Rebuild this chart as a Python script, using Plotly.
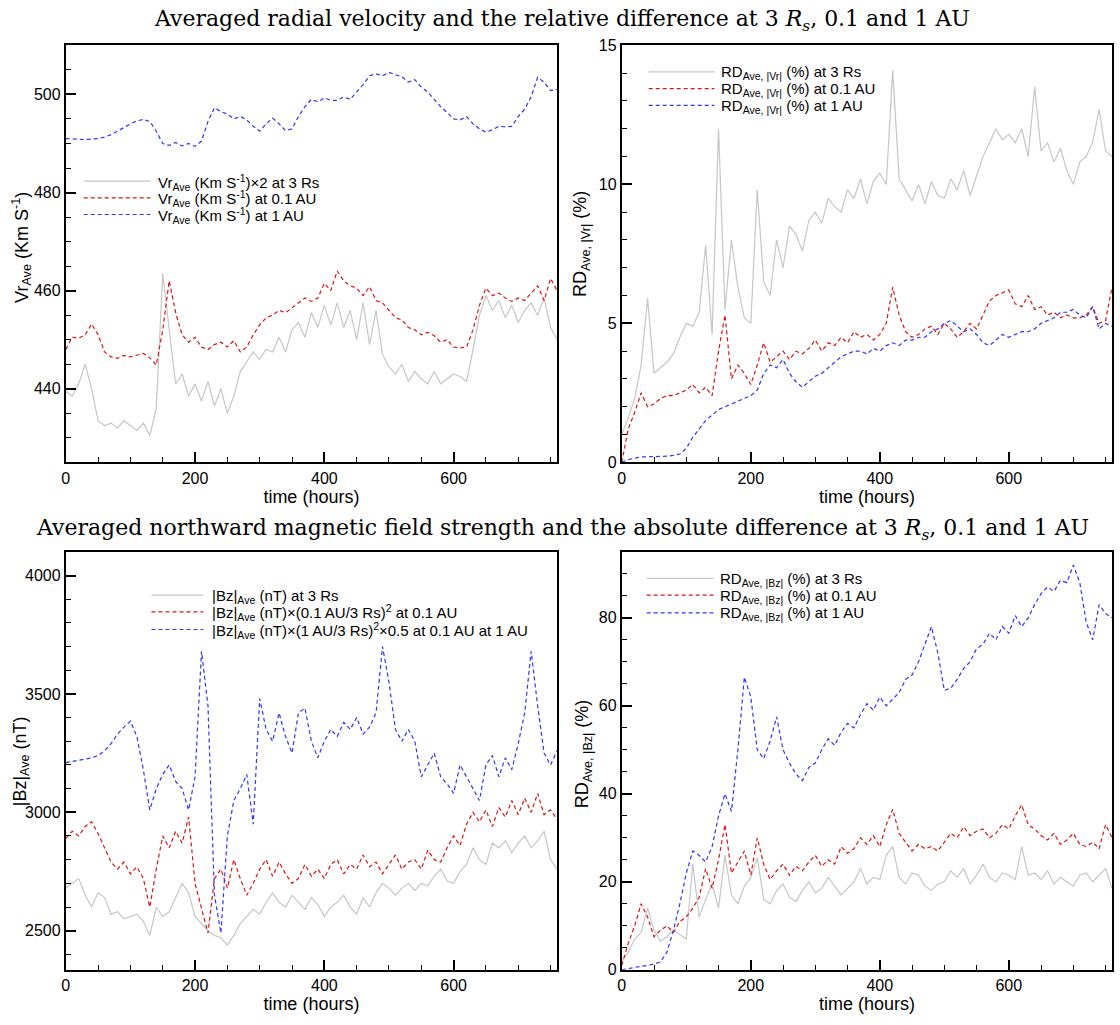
import plotly.graph_objects as go
from plotly.subplots import make_subplots

# ---------------- data ----------------
time_h = list(range(0, 770, 10))  # hours

vr_3rs_x2 = [439.5, 438.5, 441.0, 445.0, 440.0, 433.5, 432.5,
             433.0, 432.0, 433.5, 432.5, 431.5, 433.0, 430.5,
             436.0, 463.5, 452.0, 441.0, 443.0, 438.5, 441.0,
             437.5, 441.5, 436.5, 440.0, 435.0, 438.5, 443.5,
             445.5, 447.5, 446.0, 448.0, 447.5, 450.5, 447.5,
             452.0, 453.5, 450.5, 455.5, 452.5, 457.0, 453.0,
             457.5, 452.5, 456.0, 450.0, 457.5, 449.0, 456.0,
             447.0, 444.5, 443.0, 445.0, 441.5, 443.5, 442.0,
             441.0, 443.5, 441.0, 442.0, 443.0, 442.5, 441.5,
             448.0, 455.0, 459.0, 456.0, 458.0, 454.5, 457.0,
             453.5, 456.0, 457.5, 455.0, 458.5, 452.5, 450.0]
vr_01au = [448.0, 450.5, 450.3, 451.0, 453.2, 451.0, 447.5,
           446.5, 446.2, 446.8, 446.5, 446.8, 447.2, 446.3,
           444.8, 452.0, 462.0, 455.5, 451.0, 449.5, 450.5,
           448.5, 448.0, 449.0, 449.5, 448.5, 449.8, 447.5,
           448.5, 451.0, 453.0, 454.5, 455.0, 456.0, 455.5,
           456.5, 457.5, 458.5, 457.8, 458.5, 461.5, 460.0,
           464.0, 462.0, 461.0, 460.5, 459.0, 460.8, 458.0,
           457.5, 456.0, 454.5, 454.0, 452.5, 452.0, 451.0,
           451.5, 450.8, 449.5, 450.0, 448.5, 448.3, 448.5,
           452.0, 457.0, 460.5, 459.0, 459.5, 458.5, 457.8,
           458.5, 458.0, 459.5, 461.0, 458.0, 462.5, 460.0]
vr_1au = [491.0, 490.9, 490.8, 490.8, 490.9, 491.0, 491.3,
          491.8, 492.5, 493.3, 494.0, 494.6, 494.9, 494.5,
          492.5, 490.0, 489.6, 490.2, 489.5, 490.0, 489.4,
          490.5, 494.5, 497.3, 496.5, 496.0, 495.0, 495.5,
          494.8, 493.5, 492.5, 494.0, 495.2, 494.0, 492.6,
          493.0, 495.5, 497.5, 499.0, 498.5, 499.3, 498.8,
          498.8, 499.5, 499.0, 500.5, 502.0, 503.8, 504.2,
          503.8, 504.5, 504.0, 503.6, 502.5, 503.0, 501.5,
          500.5, 499.0, 497.5, 496.3, 495.0, 494.8, 495.5,
          494.0, 493.0, 492.3, 492.8, 493.5, 493.4, 493.5,
          495.5, 497.0, 499.5, 503.5, 502.5, 500.8, 501.0]

rd_vr_3rs = [1.0, 1.6, 2.3, 3.5, 5.9, 3.2, 3.4,
             3.6, 3.9, 4.5, 5.0, 4.9, 5.4, 7.8,
             4.6, 12.0, 5.5, 8.0, 6.3, 5.2, 5.0,
             9.8, 6.5, 6.0, 8.0, 7.0, 8.5, 8.2,
             7.6, 8.7, 9.0, 8.6, 9.5, 9.2, 9.0,
             9.8, 9.5, 10.2, 9.3, 10.1, 10.4, 10.0,
             14.1, 10.2, 9.8, 9.4, 10.0, 9.3, 10.1,
             9.6, 9.5, 10.2, 9.8, 10.5, 9.6, 10.3,
             11.0, 11.5, 12.0, 11.6, 11.8, 11.5, 12.0,
             11.0, 13.5, 11.2, 11.5, 10.8, 11.3, 10.5,
             10.0, 10.8, 11.0, 11.5, 12.7, 11.2, 11.0]
rd_vr_01au = [0.0, 1.2, 1.8, 2.5, 2.0, 2.1, 2.3,
              2.4, 2.4, 2.5, 2.6, 2.8, 2.5, 2.7,
              2.4, 4.0, 5.3, 3.0, 3.5, 3.2, 2.8,
              3.5, 4.3, 3.6, 3.8, 4.0, 3.7, 4.0,
              3.9, 4.1, 4.4, 4.0, 4.3, 4.2, 4.5,
              4.3, 4.7, 4.5, 4.6, 4.4, 4.6, 5.0,
              6.3, 5.3, 4.7, 4.5, 4.6, 4.8, 4.9,
              4.6, 5.0, 4.8, 4.5, 4.7, 5.0, 4.8,
              5.3, 5.8, 6.0, 6.1, 6.2, 5.7, 5.6,
              6.0, 5.5, 5.6, 5.3, 5.4, 5.2, 5.3,
              5.2, 5.2, 5.3, 5.6, 5.0, 5.1, 6.3]
rd_vr_1au = [0.0, 0.1, 0.15, 0.2, 0.2, 0.2, 0.22,
             0.22, 0.25, 0.3, 0.5, 0.9, 1.2, 1.5,
             1.7, 1.9, 2.0, 2.1, 2.2, 2.3, 2.4,
             2.6, 3.2, 3.5, 3.4, 3.7, 3.2, 2.9,
             2.7, 2.9, 3.1, 3.2, 3.4, 3.6, 3.8,
             3.9, 4.0, 4.0, 3.9, 4.1, 4.0, 4.2,
             4.3, 4.2, 4.4, 4.4, 4.5, 4.5, 4.7,
             4.8, 5.0, 5.1, 4.9, 4.7, 4.8, 4.6,
             4.3, 4.2, 4.4, 4.6, 4.5, 4.6, 4.7,
             4.7, 4.8, 5.0, 5.1, 5.2, 5.4, 5.4,
             5.5, 5.3, 5.2, 5.6, 4.8, 5.0, 4.9]

bz_3rs = [2680, 2700, 2720, 2650, 2600, 2660, 2640,
          2570, 2580, 2550, 2560, 2570, 2540, 2480,
          2600, 2560, 2580, 2640, 2700, 2660, 2560,
          2530, 2500, 2480, 2470, 2440, 2480, 2530,
          2560, 2590, 2570, 2620, 2660, 2620, 2600,
          2650, 2620, 2590, 2640, 2610, 2560, 2600,
          2620, 2650, 2600, 2570, 2640, 2600, 2660,
          2700, 2680, 2650, 2680, 2700, 2670, 2700,
          2690, 2730, 2760, 2710, 2700, 2750, 2780,
          2850, 2800, 2780, 2870, 2850, 2880, 2830,
          2870, 2900, 2850, 2880, 2920, 2800, 2760]
bz_01au = [2890, 2920, 2900, 2940, 2960, 2910, 2850,
           2790, 2760, 2790, 2740, 2770, 2720, 2600,
           2760, 2900, 2850, 2920, 2870, 2980, 2700,
           2600, 2490, 2720, 2760, 2680, 2800, 2720,
           2650, 2700, 2760, 2800, 2730, 2790, 2740,
           2700, 2720, 2780, 2730, 2760, 2720, 2780,
           2800, 2740, 2780, 2760, 2820, 2770, 2790,
           2740, 2780, 2820, 2760, 2790, 2800, 2760,
           2840, 2800, 2790, 2850, 2900, 2860, 2950,
           3000, 2960, 3010, 2940, 3020, 2980, 3050,
           2990, 3060, 3000, 3080, 2990, 3010, 2970]
bz_1au = [3210, 3215, 3220, 3225, 3230, 3240, 3260,
          3290, 3330, 3360, 3385, 3320, 3180, 3010,
          3100, 3160, 3200, 3130, 3100, 3010, 3150,
          3680, 3450, 2650, 2490, 2900, 3050, 3100,
          3160, 2950, 3480, 3350, 3300, 3420, 3320,
          3250, 3420, 3440, 3300, 3230, 3300, 3350,
          3320, 3380, 3350, 3400, 3330, 3360, 3420,
          3700, 3550, 3350, 3300, 3350, 3300, 3150,
          3200, 3250, 3150, 3120, 3080, 3200, 3150,
          3100, 3050, 3200, 3240, 3150, 3230, 3180,
          3290, 3420, 3680, 3450, 3250, 3200, 3260]

rd_bz_3rs = [2.0, 4.0, 7.0, 8.5, 14.0, 9.0, 6.5,
             7.5, 9.0, 8.0, 7.0, 24.0, 12.0, 16.0,
             19.5, 14.0, 26.0, 17.0, 15.0, 19.0, 21.0,
             25.5, 16.0, 15.0, 18.0, 19.5, 16.5, 15.5,
             18.0, 20.0, 17.5, 18.5, 21.0, 19.0, 17.0,
             18.5, 20.0, 23.0, 19.5, 21.0, 20.5, 26.0,
             28.0, 21.0, 19.5, 22.0, 21.5, 19.0, 18.0,
             19.5, 20.0, 22.5, 21.0, 23.0, 19.5, 21.5,
             24.0, 21.0, 20.0, 22.0, 21.5, 20.5, 28.0,
             21.5, 22.0, 20.5, 22.5, 19.5, 21.0, 20.0,
             19.0, 21.5, 22.0, 20.0, 21.5, 23.0, 18.5]
rd_bz_01au = [1.0, 6.0, 10.0, 15.0, 12.0, 7.5, 9.0,
              10.0, 8.5, 11.0, 12.0, 14.0, 16.5, 23.0,
              18.5, 25.0, 33.0, 22.0, 24.5, 27.0, 21.5,
              30.0, 24.0, 20.5, 22.5, 24.0, 21.5, 23.5,
              22.5, 24.5, 26.0, 23.5, 25.0, 24.0, 28.0,
              26.5, 27.5, 30.0, 28.5, 30.5, 28.0, 33.0,
              36.5, 31.0, 29.0, 27.0, 28.5, 27.5, 28.0,
              27.0, 29.0, 31.0, 30.0, 32.5, 30.5, 31.5,
              32.0, 30.0, 31.0, 33.0, 32.0, 35.0, 37.5,
              33.0, 32.0, 30.5, 29.5, 31.0, 28.5, 29.5,
              31.0, 28.5, 28.0, 29.0, 27.5, 33.0, 30.0]
rd_bz_1au = [0.0, 0.3, 0.5, 0.8, 1.0, 1.3, 1.8,
             4.0, 9.0, 15.0, 22.0, 27.0, 26.0, 24.5,
             28.0, 35.0, 40.0, 36.0, 50.0, 66.5, 62.0,
             50.0, 48.0, 52.0, 57.5, 50.0, 47.0, 44.5,
             43.0, 46.0, 47.0, 50.0, 52.5, 51.0, 54.0,
             56.0, 55.0, 58.0, 60.5, 59.0, 62.0, 60.0,
             61.5, 63.0, 66.0, 67.0, 70.0, 74.0, 78.0,
             72.0, 63.5, 64.0, 66.0, 68.5, 70.0, 73.0,
             74.0, 76.5, 75.0, 78.0, 76.5, 80.5, 78.0,
             80.0, 83.0, 85.5, 87.0, 86.0, 88.5, 88.0,
             92.0, 88.0, 79.0, 75.0, 83.0, 81.0, 80.0]

names_vr = ["Vr<sub>Ave</sub> (Km S<sup>-1</sup>)×2 at 3 Rs",
            "Vr<sub>Ave</sub> (Km S<sup>-1</sup>) at 0.1 AU",
            "Vr<sub>Ave</sub> (Km S<sup>-1</sup>) at 1 AU"]
names_rd_vr = ["RD<sub>Ave, |Vr|</sub> (%) at 3 Rs",
               "RD<sub>Ave, |Vr|</sub> (%) at 0.1 AU",
               "RD<sub>Ave, |Vr|</sub> (%) at 1 AU"]
names_bz = ["|Bz|<sub>Ave</sub> (nT) at 3 Rs",
            "|Bz|<sub>Ave</sub> (nT)×(0.1 AU/3 Rs)<sup>2</sup> at 0.1 AU",
            "|Bz|<sub>Ave</sub> (nT)×(1 AU/3 Rs)<sup>2</sup>×0.5 at 0.1 AU at 1 AU"]
names_rd_bz = ["RD<sub>Ave, |Bz|</sub> (%) at 3 Rs",
               "RD<sub>Ave, |Bz|</sub> (%) at 0.1 AU",
               "RD<sub>Ave, |Bz|</sub> (%) at 1 AU"]

title_top = "Averaged radial velocity and the relative difference at 3 <i>R</i><sub><i>s</i></sub>, 0.1 and 1 AU"
title_bottom = "Averaged northward magnetic field strength and the absolute difference at 3 <i>R</i><sub><i>s</i></sub>, 0.1 and 1 AU"
ytitles = ["Vr<sub>Ave</sub> (Km S<sup>-1</sup>)", "RD<sub>Ave, |Vr|</sub> (%)",
           "|Bz|<sub>Ave</sub> (nT)", "RD<sub>Ave, |Bz|</sub> (%)"]

# ---------------- styles ----------------
GRAY = "#c6c6c6"
RED = "#d81414"
BLUE = "#3434f2"
DASH = "4px,3px"
SANS = "Liberation Sans, Arial, sans-serif"
SERIF = "DejaVu Serif, serif"
STYLES = [(GRAY, "solid"), (RED, DASH), (BLUE, DASH)]

W, H = 1120, 1025
def px_x(p): return p / W
def px_y(p): return 1 - p / H

fig = make_subplots(rows=2, cols=2)

panels = [
    (1, 1, [vr_3rs_x2, vr_01au, vr_1au], names_vr),
    (1, 2, [rd_vr_3rs, rd_vr_01au, rd_vr_1au], names_rd_vr),
    (2, 1, [bz_3rs, bz_01au, bz_1au], names_bz),
    (2, 2, [rd_bz_3rs, rd_bz_01au, rd_bz_1au], names_rd_bz),
]
for row, col, series_list, names in panels:
    for s, nm, (c, d) in zip(series_list, names, STYLES):
        fig.add_trace(go.Scatter(x=time_h, y=s, mode="lines", name=nm,
                                 line=dict(color=c, width=1.2, dash=d),
                                 showlegend=False), row=row, col=col)

LX = [px_x(62), px_x(555)]
RX = [px_x(620), px_x(1112)]
TY = [px_y(462), px_y(38)]
BY = [px_y(978), px_y(553)]

axis_common = dict(showline=True, linecolor="black", linewidth=2, mirror=True,
                   ticks="inside", ticklen=10, tickwidth=2, tickcolor="black",
                   showgrid=False, zeroline=False,
                   tickfont=dict(family=SANS, size=16, color="black"),
                   title_font=dict(family=SANS, size=18, color="black"))

def minor(d):
    return dict(ticks="inside", ticklen=5, tickwidth=1, dtick=d, tickcolor="black")

fig.update_xaxes(range=[0, 760], dtick=200, tick0=0, minor=minor(50),
                 title_text="time (hours)", title_standoff=4, **axis_common)
fig.update_layout(
    xaxis=dict(domain=LX), xaxis2=dict(domain=RX),
    xaxis3=dict(domain=LX), xaxis4=dict(domain=RX),
    yaxis=dict(domain=TY, range=[425, 510], dtick=20, tick0=0, minor=minor(5), **axis_common),
    yaxis2=dict(domain=TY, range=[0, 15], dtick=5, tick0=0, minor=minor(1), **axis_common),
    yaxis3=dict(domain=BY, range=[2335, 4100], dtick=500, tick0=0, minor=minor(100), **axis_common),
    yaxis4=dict(domain=BY, range=[0, 95], dtick=20, tick0=0, minor=minor(5), **axis_common),
)

# y-axis titles placed as rotated annotations (overlapping tick-label column like the reference)
for txt, (xp, yp) in zip(ytitles, [(18, 243), (579, 240), (17, 766), (582, 758)]):
    fig.add_annotation(text=txt, x=px_x(xp), y=px_y(yp), xref="paper", yref="paper",
                       showarrow=False, textangle=-90, xanchor="center", yanchor="middle",
                       font=dict(family=SANS, size=18, color="black"))

# legends (sample line + label) for each panel
legend_pos = [  # line x0, line x1, text x, row y's
    (80, 147, 153, [176, 193, 210]),
    (647, 713, 718, [65, 82, 99]),
    (148, 200, 207, [597, 614, 632]),
    (645, 712, 717, [580, 597, 615]),
]
for (x0, x1, xt, ys), (_, _, _, names) in zip(legend_pos, panels):
    for yv, nm, (c, d) in zip(ys, names, STYLES):
        fig.add_shape(type="line", xref="paper", yref="paper",
                      x0=px_x(x0), x1=px_x(x1), y0=px_y(yv), y1=px_y(yv),
                      line=dict(color=c, width=1.2, dash=d))
        fig.add_annotation(text=nm, x=px_x(xt), y=px_y(yv + 1), xref="paper", yref="paper",
                           showarrow=False, xanchor="left", yanchor="middle",
                           font=dict(family=SANS, size=15, color="black"))

fig.add_annotation(text=title_top, x=0.5, y=px_y(13), xref="paper", yref="paper",
                   showarrow=False, yanchor="middle",
                   font=dict(family=SERIF, size=22, color="black"))
fig.add_annotation(text=title_bottom, x=0.5, y=px_y(530), xref="paper", yref="paper",
                   showarrow=False, yanchor="middle",
                   font=dict(family=SERIF, size=22, color="black"))

fig.update_layout(width=W, height=H, autosize=False,
                  margin=dict(l=0, r=0, t=0, b=0),
                  paper_bgcolor="white", plot_bgcolor="white",
                  showlegend=False)

fig.write_html("out.html", config={"displayModeBar": False},
               post_script="document.body.style.margin='0';")
